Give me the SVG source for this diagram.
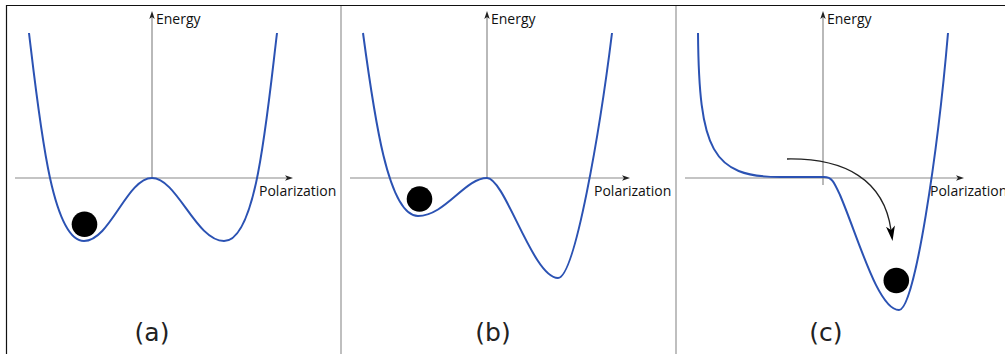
<svg xmlns="http://www.w3.org/2000/svg" width="1005" height="354" viewBox="0 0 1005 354">
<style>
.axis{stroke:#8a8a8a;stroke-width:1.2;fill:none}
.curve{stroke:#2b52b3;stroke-width:2;fill:none;stroke-linejoin:round}
.ball{fill:#000}
.lbl{fill:#111}
.small{font-family:"Open Sans","DejaVu Sans",sans-serif;font-size:14px}
.cap{font-family:"DejaVu Sans",Verdana,sans-serif;font-size:25px;text-anchor:middle;fill:#222}
.frame{stroke:#111;stroke-width:1.2;fill:none}
.div{stroke:#aaaaaa;stroke-width:1.5;fill:none}
</style>
<defs>
<marker id="axhead" viewBox="0 0 8 6" refX="2" refY="3" markerWidth="8" markerHeight="6" markerUnits="userSpaceOnUse" orient="auto">
<path d="M0,0.3 L8,3 L0,5.7 L2,3 Z" fill="#222"/>
</marker>
<marker id="arhead" viewBox="0 0 15 9" refX="4" refY="4.5" markerWidth="15" markerHeight="9" markerUnits="userSpaceOnUse" orient="auto">
<path d="M0,0 L15,4.5 L0,9 L4,4.5 Z" fill="#000"/>
</marker>
</defs>
<rect width="1005" height="354" fill="#fff"/>
<g id="frame">
<path class="frame" d="M6.5,354 V5.5 H1005"/>
<path class="div" d="M341,6 V354 M676,6 V354"/>
</g>
<g id="panel-a">
<path class="axis" d="M152,179 V17" marker-end="url(#axhead)"/>
<path class="axis" d="M15,178 H287" marker-end="url(#axhead)"/>
<text class="lbl small" x="156" y="24">Energy</text>
<text class="lbl small" x="259" y="196">Polarization</text>
<path class="curve" d="M29,33 C40,125 52,241 84,241 C110,241 127,178 152,178 C177,178 196,241 224,241 C256,241 266,125 277,33"/>
<circle class="ball" cx="84.5" cy="224.2" r="12.8"/>
<text class="lbl cap" x="152" y="341">(a)</text>
</g>
<g id="panel-b">
<path class="axis" d="M487,179 V17" marker-end="url(#axhead)"/>
<path class="axis" d="M350,178 H624" marker-end="url(#axhead)"/>
<text class="lbl small" x="491" y="24">Energy</text>
<text class="lbl small" x="594" y="196">Polarization</text>
<path class="curve" d="M363,33 C374,115 388,216 418,216 C445,216 465,178 487,178 C505,178 533,278 558,278 C575,278 600,130 612,33"/>
<circle class="ball" cx="419.5" cy="199" r="12.8"/>
<text class="lbl cap" x="493" y="341">(b)</text>
</g>
<g id="panel-c">
<path class="axis" d="M823,185 V17" marker-end="url(#axhead)"/>
<path class="axis" d="M685,178 H958" marker-end="url(#axhead)"/>
<text class="lbl small" x="827" y="24">Energy</text>
<text class="lbl small" x="930" y="196">Polarization</text>
<path class="curve" d="M698,33 C699,150 712,177 780,177 L824,177 C832,177 834,182 840,195 C858,237 878,310 899,310 C915,310 938,150 948,33"/>
<circle class="ball" cx="896.3" cy="280.5" r="12.8"/>
<text class="lbl cap" x="826" y="341">(c)</text>
</g>
<g id="connectors">
<path d="M787,159 C845,158 884,180 891,230" fill="none" stroke="#222" stroke-width="1.3" marker-end="url(#arhead)"/>
</g>
</svg>
